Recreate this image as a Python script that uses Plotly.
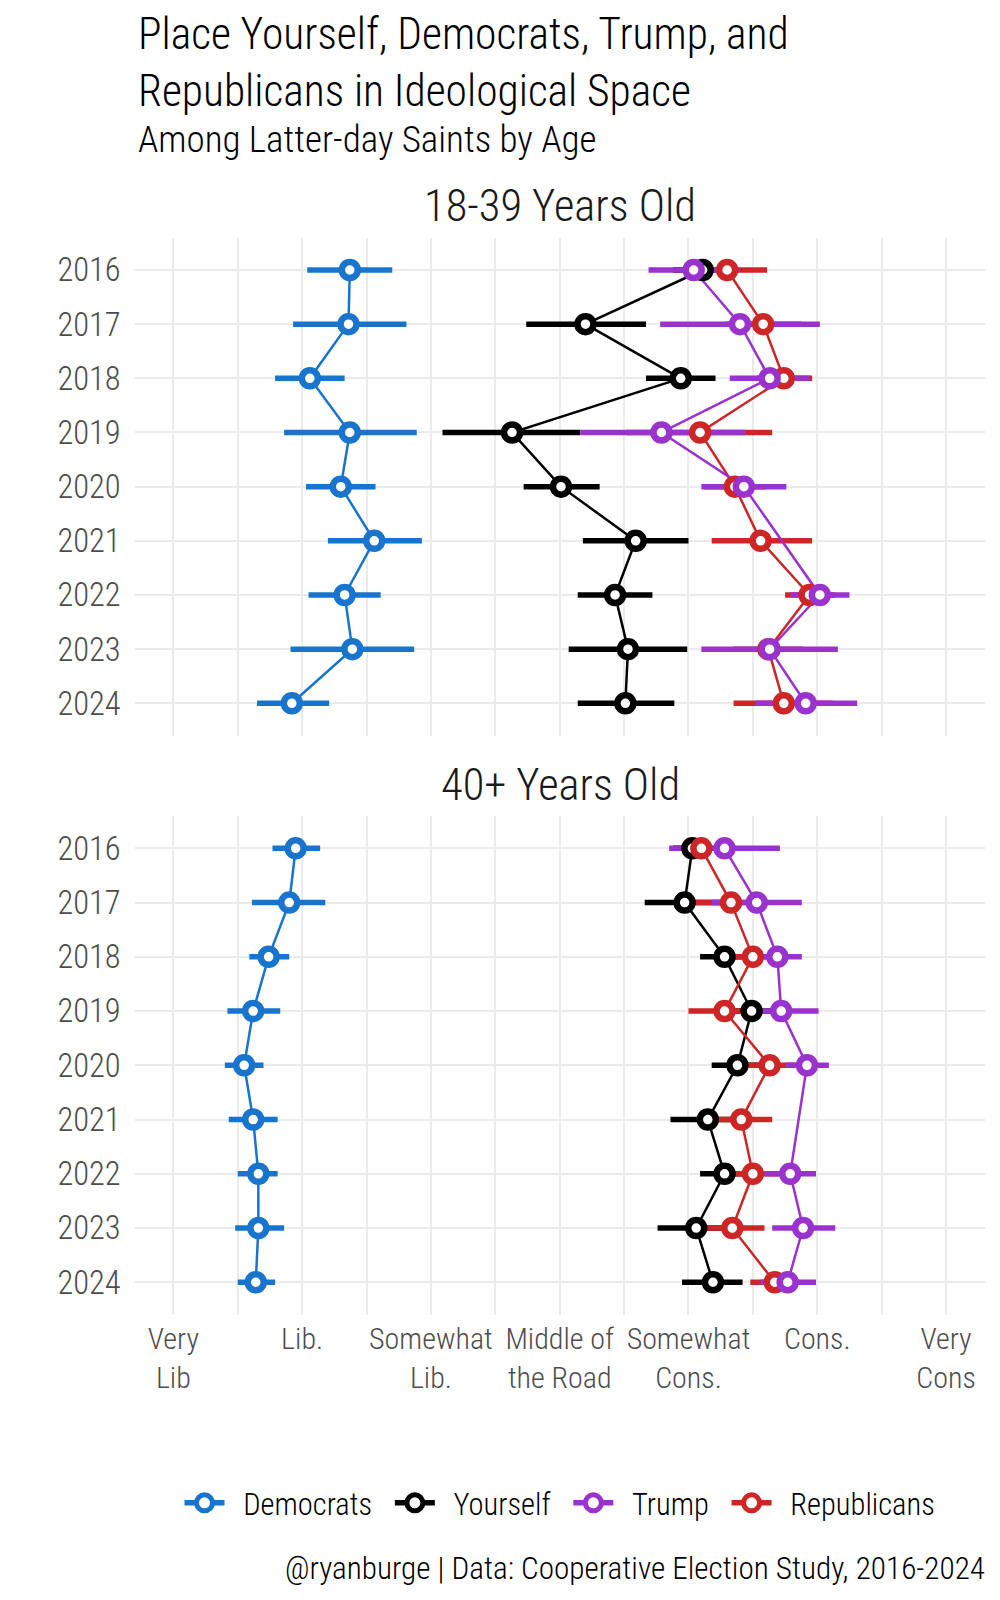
import plotly.graph_objects as go

# ---------------- data ----------------
years = [2016, 2017, 2018, 2019, 2020, 2021, 2022, 2023, 2024]
x_tick_vals = [1, 2, 3, 4, 5, 6, 7]
x_tick_labels = ["Very<br>Lib", "Lib.", "Somewhat<br>Lib.", "Middle of<br>the Road",
                 "Somewhat<br>Cons.", "Cons.", "Very<br>Cons"]
panel_titles = ["18-39 Years Old", "40+ Years Old"]

# 18-39 Years Old
dem_young = [2.37, 2.36, 2.06, 2.37, 2.30, 2.56, 2.33, 2.39, 1.92]
dem_young_lo = [2.04, 1.93, 1.79, 1.86, 2.03, 2.20, 2.05, 1.91, 1.65]
dem_young_hi = [2.70, 2.81, 2.33, 2.89, 2.57, 2.93, 2.61, 2.87, 2.21]
you_young = [5.11, 4.20, 4.94, 3.63, 4.01, 4.59, 4.43, 4.53, 4.51]
you_young_lo = [4.88, 3.74, 4.67, 3.09, 3.72, 4.18, 4.14, 4.07, 4.14]
you_young_hi = [5.34, 4.67, 5.21, 4.16, 4.31, 5.00, 4.72, 4.99, 4.89]
trump_young = [5.04, 5.40, 5.63, 4.79, 5.43, None, 6.02, 5.63, 5.91]
trump_young_lo = [4.69, 4.78, 5.32, 4.16, 5.10, None, 5.79, 5.10, 5.52]
trump_young_hi = [5.39, 6.02, 5.94, 5.44, 5.76, None, 6.25, 6.16, 6.31]
rep_young = [5.30, 5.58, 5.74, 5.09, 5.36, 5.56, 5.94, 5.62, 5.74]
rep_young_lo = [4.99, 5.28, 5.53, 4.52, 5.12, 5.18, 5.75, 5.35, 5.35]
rep_young_hi = [5.61, 5.88, 5.96, 5.65, 5.60, 5.96, 6.14, 5.89, 6.12]

# 40+ Years Old
dem_old = [1.95, 1.90, 1.74, 1.62, 1.55, 1.62, 1.66, 1.66, 1.64]
dem_old_lo = [1.77, 1.61, 1.59, 1.42, 1.40, 1.43, 1.50, 1.48, 1.50]
dem_old_hi = [2.14, 2.18, 1.90, 1.83, 1.70, 1.81, 1.81, 1.86, 1.79]
you_old = [5.03, 4.97, 5.28, 5.49, 5.38, 5.15, 5.28, 5.06, 5.19]
you_old_lo = [4.88, 4.66, 5.09, 5.29, 5.18, 4.86, 5.09, 4.76, 4.95]
you_old_hi = [5.18, 5.27, 5.47, 5.69, 5.58, 5.45, 5.47, 5.37, 5.42]
trump_old = [5.28, 5.53, 5.69, 5.72, 5.92, None, 5.79, 5.89, 5.77]
trump_old_lo = [4.85, 5.18, 5.50, 5.43, 5.75, None, 5.59, 5.65, 5.56]
trump_old_hi = [5.71, 5.88, 5.88, 6.01, 6.09, None, 5.99, 6.14, 5.99]
rep_old = [5.10, 5.33, 5.50, 5.28, 5.63, 5.41, 5.50, 5.34, 5.67]
rep_old_lo = [4.90, 5.05, 5.31, 5.00, 5.43, 5.17, 5.30, 5.09, 5.48]
rep_old_hi = [5.30, 5.62, 5.69, 5.56, 5.83, 5.65, 5.70, 5.59, 5.86]

colors = {"Democrats": "#1874CD", "Yourself": "#000000",
          "Trump": "#9A32CD", "Republicans": "#CD2626"}
legend_order = ["Democrats", "Yourself", "Trump", "Republicans"]
draw_order = ["Democrats", "Yourself", "Republicans", "Trump"]

panels = [
    {"Democrats": (dem_young, dem_young_lo, dem_young_hi),
     "Yourself": (you_young, you_young_lo, you_young_hi),
     "Trump": (trump_young, trump_young_lo, trump_young_hi),
     "Republicans": (rep_young, rep_young_lo, rep_young_hi)},
    {"Democrats": (dem_old, dem_old_lo, dem_old_hi),
     "Yourself": (you_old, you_old_lo, you_old_hi),
     "Trump": (trump_old, trump_old_lo, trump_old_hi),
     "Republicans": (rep_old, rep_old_lo, rep_old_hi)},
]

# ---------------- layout helpers ----------------
OFF = 8  # page body margin
W, H = 1000 - OFF, 1600 - OFF
FONT = "Roboto Condensed, DejaVu Sans Condensed, sans-serif"
WT = 300


def fx(px):
    return (px - OFF) / W


def fy(py):
    return 1 - (py - OFF) / H


x_dom = [fx(134.7), fx(984.7)]
y_doms = [[fy(735.8), fy(237.5)], [fy(1314.8), fy(815.8)]]

fig = go.Figure()

for pi, pdata in enumerate(panels):
    xa = "x" if pi == 0 else "x2"
    ya = "y" if pi == 0 else "y2"
    # error bars
    for s in draw_order:
        v, lo, hi = pdata[s]
        ex, ey = [], []
        for yr, a, b in zip(years, lo, hi):
            if a is None:
                continue
            ex += [a, b, None]
            ey += [yr, yr, None]
        fig.add_trace(go.Scatter(x=ex, y=ey, mode="lines", xaxis=xa, yaxis=ya,
                                 line=dict(color=colors[s], width=5.5),
                                 showlegend=False, hoverinfo="skip"))
    # connecting lines
    for s in draw_order:
        v, lo, hi = pdata[s]
        fig.add_trace(go.Scatter(x=v, y=years, mode="lines", xaxis=xa, yaxis=ya,
                                 connectgaps=True,
                                 line=dict(color=colors[s], width=2.5),
                                 showlegend=False, hoverinfo="skip"))
    # points
    for s in draw_order:
        v, lo, hi = pdata[s]
        fig.add_trace(go.Scatter(x=v, y=years, mode="markers", xaxis=xa, yaxis=ya,
                                 marker=dict(symbol="circle", size=16, color="white",
                                             line=dict(color=colors[s], width=6.5)),
                                 name=s, showlegend=False))

# legend entries
NB = "\u00a0"
TH = "\u2009"
for s in legend_order:
    fig.add_trace(go.Scatter(x=[None], y=[None], mode="lines+markers",
                             name=NB * 2 + s + NB + TH,
                             xaxis="x2", yaxis="y2",
                             line=dict(color=colors[s], width=5.5),
                             marker=dict(symbol="circle", size=16, color="white",
                                         line=dict(color=colors[s], width=6))))

grid = "#EBEBEB"
common_x = dict(range=[0.7, 7.3], domain=x_dom, tickvals=x_tick_vals,
                showgrid=True, gridcolor=grid, gridwidth=2, zeroline=False,
                showline=False, ticks="", tickangle=0,
                minor=dict(dtick=0.5, tick0=0.5, showgrid=True, gridcolor=grid, gridwidth=1.6),
                fixedrange=True)
common_y = dict(range=[2024.6, 2015.4], tickvals=years, ticktext=[str(y) for y in years],
                showgrid=True, gridcolor=grid, gridwidth=2, zeroline=False,
                showline=False, ticks="", ticklabelstandoff=13,
                tickfont=dict(family=FONT, size=32.5, color="#4D4D4D", weight=WT),
                fixedrange=True)

fig.update_layout(
    width=W, height=H,
    margin=dict(l=0, r=0, t=0, b=0),
    paper_bgcolor="white", plot_bgcolor="white",
    font=dict(family=FONT, color="#000000", weight=WT),
    xaxis=dict(**common_x, anchor="y", showticklabels=False),
    xaxis2=dict(**common_x, anchor="y2", showticklabels=True,
                ticktext=x_tick_labels, ticklabelstandoff=3,
                tickfont=dict(family=FONT, size=30, color="#4D4D4D", weight=WT)),
    yaxis=dict(**common_y, domain=y_doms[0], anchor="x"),
    yaxis2=dict(**common_y, domain=y_doms[1], anchor="x2"),
    showlegend=True,
    legend=dict(orientation="h", x=fx(566), xanchor="center", y=fy(1503), yanchor="middle",
                font=dict(family=FONT, size=30.5, color="#000000", weight=WT),
                bgcolor="rgba(0,0,0,0)", itemsizing="trace", itemwidth=40),
    hovermode=False,
)

annotations = [
    dict(text="Place Yourself, Democrats, Trump, and<br>Republicans in Ideological Space",
         x=fx(136), y=fy(63), xanchor="left", yanchor="middle", align="left",
         font=dict(size=43.5, color="#000000")),
    dict(text="Among Latter-day Saints by Age", x=fx(136), y=fy(140),
         xanchor="left", yanchor="middle", font=dict(size=37, color="#000000")),
    dict(text=panel_titles[0], x=fx(560), y=fy(206),
         xanchor="center", yanchor="middle", font=dict(size=44.5, color="#1A1A1A")),
    dict(text=panel_titles[1], x=fx(560), y=fy(784.7),
         xanchor="center", yanchor="middle", font=dict(size=44.5, color="#1A1A1A")),
    dict(text="@ryanburge | Data: Cooperative Election Study, 2016-2024", x=fx(987), y=fy(1568.5),
         xanchor="right", yanchor="middle", font=dict(size=31.2, color="#000000")),
]
for a in annotations:
    a.update(xref="paper", yref="paper", showarrow=False)
    a["font"]["family"] = FONT
    a["font"]["weight"] = WT
fig.update_layout(annotations=annotations)

fig.write_html("out.html")
